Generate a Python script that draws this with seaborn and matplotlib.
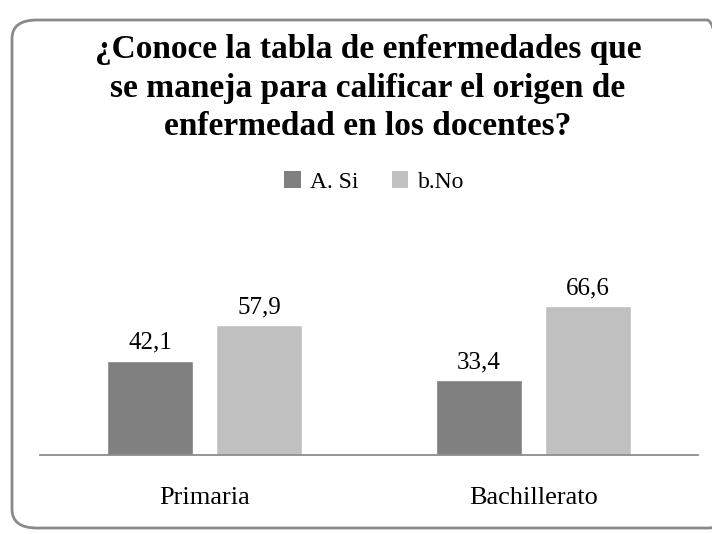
import matplotlib
matplotlib.use("Agg")
import matplotlib.pyplot as plt
from matplotlib.patches import FancyBboxPatch, Patch
import seaborn as sns
import pandas as pd

# data
niveles = ["Primaria", "Bachillerato"]
respuestas = ["A. Si", "b.No"]
valores_si = [42.1, 33.4]
valores_no = [57.9, 66.6]
colores = ["#808080", "#c0c0c0"]

df = pd.DataFrame({
    "nivel": niveles * 2,
    "respuesta": [respuestas[0]] * 2 + [respuestas[1]] * 2,
    "valor": valores_si + valores_no,
})

sns.set_theme(style="white")
plt.rcParams["font.family"] = ["Liberation Serif", "DejaVu Serif"]
plt.rcParams["text.color"] = "black"
plt.rcParams["xtick.color"] = "black"

fig = plt.figure(figsize=(7.12, 5.34), dpi=100)
ax = fig.add_axes([40 / 712, 79 / 534, 658 / 712, 179 / 534])

sns.barplot(data=df, x="nivel", y="valor", hue="respuesta", palette=colores,
            width=0.662, gap=0.21, ax=ax, legend=False)

for cont in ax.containers:
    ax.bar_label(cont, labels=[f"{v:.1f}".replace(".", ",") for v in cont.datavalues],
                 padding=5, fontsize=18, color="black")

ax.set_ylim(0, 80)
ax.set_xlim(-0.5, 1.5)
ax.set_xlabel("")
ax.set_ylabel("")
ax.set_yticks([])
ax.tick_params(axis="x", length=0, pad=23, labelsize=19, labelcolor="black")
for s in ["top", "right", "left"]:
    ax.spines[s].set_visible(False)
ax.spines["bottom"].set_color("#8c8c8c")
ax.spines["bottom"].set_linewidth(1.3)

# title
fig.text(368 / 712, 1 - 88 / 534,
         "¿Conoce la tabla de enfermedades que\nse maneja para calificar el origen de\nenfermedad en los docentes?",
         ha="center", va="center", fontsize=24, fontweight="bold", linespacing=1.3,
         color="black")

# legend
handles = [Patch(facecolor=c, edgecolor="none") for c in colores]
fig.legend(handles, respuestas, loc="center", bbox_to_anchor=(374 / 712, 1 - 182 / 534),
           ncol=2, frameon=False, fontsize=17, handlelength=0.7, handleheight=0.7,
           handletextpad=0.4, columnspacing=1.4)

# rounded frame
frame = FancyBboxPatch((12 / 712, 6 / 534), 720 / 712, 508 / 534,
                       boxstyle="round,pad=0,rounding_size=0.035",
                       transform=fig.transFigure, facecolor="none",
                       edgecolor="#8a8a8a", linewidth=2, clip_on=False)
fig.patches.append(frame)

fig.savefig("out.png", dpi=100)
